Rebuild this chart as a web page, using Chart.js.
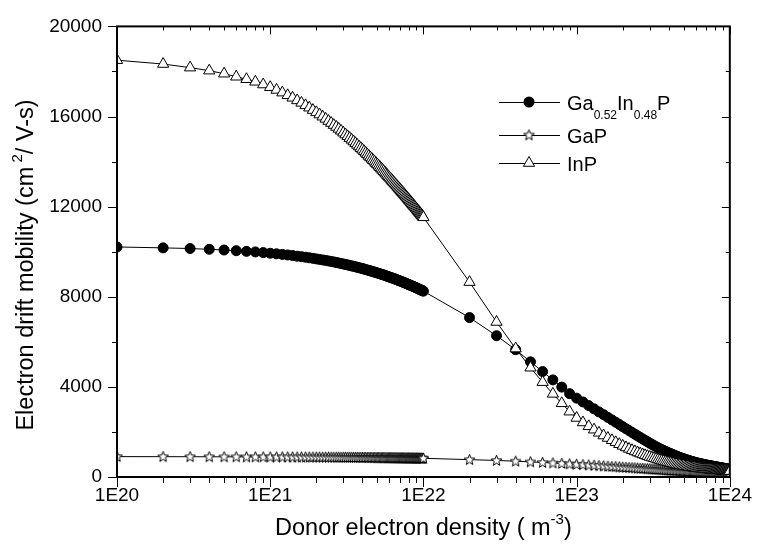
<!DOCTYPE html>
<html>
<head>
<meta charset="utf-8">
<script src="https://cdn.jsdelivr.net/npm/chart.js@4.4.1/dist/chart.umd.min.js"></script>
<style>
  body { margin: 0; background: #fff; }
  #wrap { width: 759px; height: 551px; }
</style>
</head>
<body>
<div id="wrap"><canvas id="chartMob" width="759" height="551"></canvas></div>
<script>
// donor electron density (m^-3)
const densities = [
  1e20, 2e20, 3e20, 4e20, 5e20, 6e20, 7e20, 8e20, 9e20,
  10e20, 11e20, 12e20, 13e20, 14e20, 15e20, 16e20, 17e20, 18e20, 19e20,
  20e20, 21e20, 22e20, 23e20, 24e20, 25e20, 26e20, 27e20, 28e20, 29e20,
  30e20, 31e20, 32e20, 33e20, 34e20, 35e20, 36e20, 37e20, 38e20, 39e20,
  40e20, 41e20, 42e20, 43e20, 44e20, 45e20, 46e20, 47e20, 48e20, 49e20,
  50e20, 51e20, 52e20, 53e20, 54e20, 55e20, 56e20, 57e20, 58e20, 59e20,
  60e20, 61e20, 62e20, 63e20, 64e20, 65e20, 66e20, 67e20, 68e20, 69e20,
  70e20, 71e20, 72e20, 73e20, 74e20, 75e20, 76e20, 77e20, 78e20, 79e20,
  80e20, 81e20, 82e20, 83e20, 84e20, 85e20, 86e20, 87e20, 88e20, 89e20,
  90e20, 91e20, 92e20, 93e20, 94e20, 95e20, 96e20, 97e20, 98e20, 99e20, 100e20,
  2e22, 3e22, 4e22, 5e22, 6e22, 7e22, 8e22, 9e22,
  10e22, 11e22, 12e22, 13e22, 14e22, 15e22, 16e22, 17e22, 18e22, 19e22,
  20e22, 21e22, 22e22, 23e22, 24e22, 25e22, 26e22, 27e22, 28e22, 29e22,
  30e22, 31e22, 32e22, 33e22, 34e22, 35e22, 36e22, 37e22, 38e22, 39e22,
  40e22, 41e22, 42e22, 43e22, 44e22, 45e22, 46e22, 47e22, 48e22, 49e22,
  50e22, 51e22, 52e22, 53e22, 54e22, 55e22, 56e22, 57e22, 58e22, 59e22,
  60e22, 61e22, 62e22, 63e22, 64e22, 65e22, 66e22, 67e22, 68e22, 69e22,
  70e22, 71e22, 72e22, 73e22, 74e22, 75e22, 76e22, 77e22, 78e22, 79e22,
  80e22, 81e22, 82e22, 83e22, 84e22, 85e22, 86e22, 87e22, 88e22, 89e22,
  90e22, 91e22, 92e22, 93e22, 94e22, 95e22, 96e22, 97e22, 98e22, 99e22, 100e22
];

// electron drift mobility (cm2 / V-s), same order as densities
const gaInP = [
  10210, 10170, 10140, 10105, 10075, 10045, 10015, 9990, 9960,
  9930, 9905, 9880, 9855, 9830, 9800, 9780, 9755, 9730, 9705,
  9680, 9657, 9635, 9612, 9590, 9567, 9545, 9522, 9500, 9477,
  9455, 9435, 9415, 9392, 9370, 9350, 9330, 9310, 9290, 9270,
  9250, 9230, 9210, 9190, 9170, 9151, 9132, 9113, 9095, 9076,
  9057, 9038, 9020, 9002, 8985, 8967, 8950, 8931, 8912, 8893,
  8875, 8859, 8842, 8826, 8810, 8792, 8775, 8757, 8740, 8724,
  8707, 8691, 8675, 8659, 8642, 8626, 8610, 8594, 8577, 8561,
  8545, 8530, 8515, 8500, 8485, 8470, 8455, 8440, 8425, 8410,
  8395, 8380, 8365, 8350, 8335, 8320, 8305, 8291, 8277, 8264, 8250,
  7075, 6270, 5650, 5110, 4680, 4310, 3990, 3700,
  3500, 3330, 3170, 3025, 2890, 2765, 2645, 2535, 2430, 2330,
  2235, 2146, 2060, 1978, 1900, 1826, 1755, 1689, 1625, 1564,
  1505, 1449, 1395, 1346, 1300, 1256, 1215, 1177, 1140, 1104,
  1070, 1039, 1009, 979, 950, 923, 897, 873, 850, 829,
  808, 789, 770, 751, 733, 716, 700, 684, 669, 654,
  640, 628, 617, 606, 595, 585, 575, 565, 555, 546,
  537, 528, 520, 512, 505, 497, 490, 482, 475, 467,
  460, 453, 447, 441, 435, 429, 422, 416, 410, 404,
  397, 391, 385, 379, 372, 366, 360, 355, 350, 345, 340
];
const gaP = [
  905, 902, 900, 898, 896, 895, 893, 892, 891,
  890, 889, 889, 888, 887, 887, 886, 885, 884, 884,
  883, 882, 881, 880, 880, 879, 878, 877, 877, 876,
  875, 874, 873, 872, 872, 871, 870, 869, 869, 868,
  867, 866, 866, 865, 864, 863, 862, 862, 861, 860,
  859, 859, 858, 857, 857, 856, 856, 855, 854, 853,
  853, 852, 851, 851, 850, 849, 849, 848, 848, 847,
  846, 846, 846, 845, 844, 844, 843, 842, 842, 841,
  841, 840, 840, 839, 839, 838, 837, 837, 836, 836,
  835, 835, 834, 834, 833, 833, 832, 832, 831, 831, 830,
  770, 735, 700, 670, 645, 622, 600, 582,
  565, 548, 532, 517, 503, 490, 478, 466, 455, 445,
  435, 426, 417, 408, 400, 392, 385, 378, 371, 364,
  358, 352, 346, 340, 335, 329, 324, 319, 314, 309,
  305, 301, 296, 292, 288, 284, 280, 276, 273, 270,
  266, 263, 260, 257, 254, 251, 248, 245, 242, 240,
  237, 234, 232, 229, 227, 225, 223, 220, 218, 216,
  214, 212, 210, 208, 206, 205, 203, 201, 200, 198,
  196, 194, 193, 191, 190, 189, 187, 186, 185, 184,
  183, 181, 180, 179, 178, 176, 175, 174, 173, 171, 170
];
const inP = [
  18500, 18330, 18170, 18035, 17900, 17765, 17655, 17540, 17420,
  17300, 17180, 17060, 16940, 16830, 16715, 16605, 16495, 16390, 16285,
  16185, 16087, 15990, 15895, 15800, 15710, 15620, 15535, 15450, 15365,
  15280, 15200, 15120, 15042, 14965, 14890, 14815, 14740, 14665, 14595,
  14525, 14455, 14385, 14317, 14250, 14185, 14120, 14057, 13995, 13933,
  13872, 13811, 13750, 13690, 13631, 13573, 13515, 13458, 13401, 13345,
  13290, 13237, 13184, 13132, 13080, 13028, 12977, 12926, 12875, 12827,
  12780, 12732, 12685, 12638, 12592, 12546, 12500, 12454, 12409, 12364,
  12320, 12277, 12234, 12192, 12150, 12108, 12067, 12026, 11985, 11945,
  11905, 11865, 11825, 11787, 11750, 11712, 11675, 11637, 11600, 11562, 11525,
  8650, 6880, 5700, 4850, 4210, 3690, 3270, 2900,
  2620, 2420, 2250, 2100, 1960, 1840, 1730, 1630, 1540, 1455,
  1380, 1310, 1245, 1188, 1135, 1086, 1040, 999, 960, 924,
  890, 859, 830, 802, 775, 750, 725, 702, 680, 660,
  640, 621, 603, 586, 570, 555, 541, 528, 515, 503,
  492, 481, 470, 459, 449, 439, 430, 422, 414, 407,
  400, 393, 387, 381, 375, 370, 365, 360, 355, 350,
  346, 341, 337, 333, 329, 326, 322, 318, 315, 311,
  308, 305, 302, 300, 297, 294, 292, 289, 287, 285,
  282, 280, 278, 276, 274, 272, 270, 268, 266, 264, 262
];

const xTickValues = [1e20, 1e21, 1e22, 1e23, 1e24];
const xTickLabels = ['1E20', '1E21', '1E22', '1E23', '1E24'];
const yTickValues = [0, 4000, 8000, 12000, 16000, 20000];
const yTickLabels = ['0', '4000', '8000', '12000', '16000', '20000'];

const FONT = "'Liberation Sans', Arial, sans-serif";

function toPoints(ys) {
  return densities.map(function (x, i) { return { x: x, y: ys[i] }; });
}

// hollow five point star for GaP
function makeStar() {
  var c = document.createElement('canvas');
  c.width = 13; c.height = 13;
  var g = c.getContext('2d');
  g.beginPath();
  for (var i = 0; i < 10; i++) {
    var r = i % 2 == 0 ? 5.6 : 2.4;
    var a = -Math.PI / 2 + i * Math.PI / 5;
    var px = 6.5 + r * Math.cos(a), py = 6.8 + r * Math.sin(a);
    if (i == 0) g.moveTo(px, py); else g.lineTo(px, py);
  }
  g.closePath();
  g.fillStyle = '#fff'; g.fill();
  g.strokeStyle = '#000'; g.lineWidth = 1; g.stroke();
  return c;
}
var starImg = makeStar();

// draws text with sub/superscript pieces, returns width
function richText(ctx, parts, x, y, measureOnly) {
  var w = 0;
  parts.forEach(function (p) {
    ctx.font = p.size + 'px ' + FONT;
    if (!measureOnly) ctx.fillText(p.t, x + w, y + (p.dy || 0));
    w += ctx.measureText(p.t).width;
  });
  return w;
}

const decorPlugin = {
  id: 'decor',
  afterDatasetsDraw(chart) {
    const ctx = chart.ctx, a = chart.chartArea;
    const xs = chart.scales.x, ys = chart.scales.y;
    ctx.save();
    ctx.strokeStyle = '#000';
    ctx.lineWidth = 1;
    ctx.beginPath();
    // x ticks, bottom outward / top inward
    for (let d = 20; d <= 24; d++) {
      for (let m = 1; m < 10; m++) {
        if (d == 24 && m > 1) break;
        const px = Math.round(xs.getPixelForValue(m * Math.pow(10, d))) + 0.5;
        const major = m == 1;
        ctx.moveTo(px, a.bottom); ctx.lineTo(px, a.bottom + (major ? 10 : 6));
        ctx.moveTo(px, a.top); ctx.lineTo(px, a.top + (major ? 8 : 4));
      }
    }
    // y ticks, left outward / right inward
    for (let v = 0; v <= 20000; v += 2000) {
      const py = Math.round(ys.getPixelForValue(v)) + 0.5;
      const major = v % 4000 == 0;
      ctx.moveTo(a.left, py); ctx.lineTo(a.left - (major ? 9 : 5), py);
      ctx.moveTo(a.right, py); ctx.lineTo(a.right - (major ? 8 : 4), py);
    }
    ctx.stroke();
    ctx.lineWidth = 2;
    ctx.strokeRect(a.left, a.top, a.right - a.left, a.bottom - a.top);
    ctx.restore();
  },
  afterDraw(chart) {
    const ctx = chart.ctx, a = chart.chartArea;
    ctx.save();
    ctx.fillStyle = '#000';
    ctx.textBaseline = 'alphabetic';

    // x title
    var xParts = [
      { t: 'Donor electron density ( m', size: 23.5 },
      { t: '-3', size: 15, dy: -11 },
      { t: ')', size: 23.5 }
    ];
    var xw = richText(ctx, xParts, 0, 0, true);
    richText(ctx, xParts, (a.left + a.right) / 2 - xw / 2, 535);

    // y title
    var yParts = [
      { t: 'Electron drift mobility (cm', size: 23.5 },
      { t: ' 2', size: 15, dy: -11 },
      { t: '/ V-s)', size: 23.5 }
    ];
    var yw = richText(ctx, yParts, 0, 0, true);
    ctx.translate(33, 265);
    ctx.rotate(-Math.PI / 2);
    richText(ctx, yParts, -yw / 2, 0);
    ctx.setTransform(1, 0, 0, 1, 0, 0);

    // legend
    var rows = [
      { y: 102, kind: 'circle', parts: [
        { t: 'Ga', size: 20 }, { t: '0.52', size: 12, dy: 9 },
        { t: 'In', size: 20 }, { t: '0.48', size: 12, dy: 9 }, { t: 'P', size: 20 }] },
      { y: 135, kind: 'star', parts: [{ t: 'GaP', size: 20 }] },
      { y: 163, kind: 'tri', parts: [{ t: 'InP', size: 20 }] }
    ];
    rows.forEach(function (r) {
      ctx.strokeStyle = '#000';
      ctx.lineWidth = 1;
      ctx.beginPath();
      ctx.moveTo(499, r.y + 0.5); ctx.lineTo(560, r.y + 0.5);
      ctx.stroke();
      var mx = 529;
      if (r.kind == 'circle') {
        ctx.beginPath(); ctx.arc(mx, r.y, 5.5, 0, Math.PI * 2);
        ctx.fillStyle = '#000'; ctx.fill();
      } else if (r.kind == 'star') {
        ctx.drawImage(starImg, mx - 6.5, r.y - 6.5);
      } else {
        ctx.beginPath();
        ctx.moveTo(mx, r.y - 6.5);
        ctx.lineTo(mx + 5.6, r.y + 3.3);
        ctx.lineTo(mx - 5.6, r.y + 3.3);
        ctx.closePath();
        ctx.fillStyle = '#fff'; ctx.fill(); ctx.stroke();
      }
      ctx.fillStyle = '#000';
      richText(ctx, r.parts, 567, r.y + 8);
    });
    ctx.restore();
  }
};

var ctx = document.getElementById('chartMob').getContext('2d');

var myChart = new Chart(ctx, {
  type: 'line',
  data: {
    datasets: [
      {
        label: 'InP',
        data: toPoints(inP),
        order: 0,
        borderColor: '#000',
        borderWidth: 1,
        pointStyle: 'triangle',
        pointRadius: 6.5,
        pointBorderWidth: 1,
        pointBackgroundColor: '#fff',
        pointBorderColor: '#000'
      },
      {
        label: 'GaP',
        data: toPoints(gaP),
        order: 1,
        borderColor: '#000',
        borderWidth: 1,
        pointStyle: starImg,
        pointRadius: 6
      },
      {
        label: 'Ga0.52In0.48P',
        data: toPoints(gaInP),
        order: 2,
        borderColor: '#000',
        borderWidth: 1,
        pointStyle: 'circle',
        pointRadius: 5,
        pointBorderWidth: 1,
        pointBackgroundColor: '#000',
        pointBorderColor: '#000'
      }
    ]
  },
  options: {
    animation: false,
    responsive: false,
    layout: { padding: { left: 0, right: 24, top: 19, bottom: 0 } },
    elements: { line: { tension: 0 } },
    plugins: {
      legend: { display: false },
      tooltip: { enabled: false },
      title: { display: false }
    },
    scales: {
      x: {
        type: 'logarithmic',
        min: 1e20,
        max: 1e24,
        grid: { display: false, drawTicks: false },
        border: { display: false },
        afterBuildTicks: function (scale) {
          scale.ticks = xTickValues.map(function (v) { return { value: v }; });
        },
        afterFit: function (scale) { scale.height = 74; },
        ticks: {
          padding: 7,
          maxRotation: 0,
          autoSkip: false,
          color: '#000',
          font: { family: FONT, size: 19 },
          callback: function (value) {
            var i = xTickValues.indexOf(value);
            return i >= 0 ? xTickLabels[i] : '';
          }
        }
      },
      y: {
        min: 0,
        max: 20000,
        grid: { display: false, drawTicks: false },
        border: { display: false },
        afterBuildTicks: function (scale) {
          scale.ticks = yTickValues.map(function (v) { return { value: v }; });
        },
        afterFit: function (scale) { scale.width = 117; },
        ticks: {
          padding: 15,
          color: '#000',
          font: { family: FONT, size: 19 },
          callback: function (value) {
            var i = yTickValues.indexOf(value);
            return i >= 0 ? yTickLabels[i] : '';
          }
        }
      }
    }
  },
  plugins: [decorPlugin]
});
</script>
</body>
</html>
